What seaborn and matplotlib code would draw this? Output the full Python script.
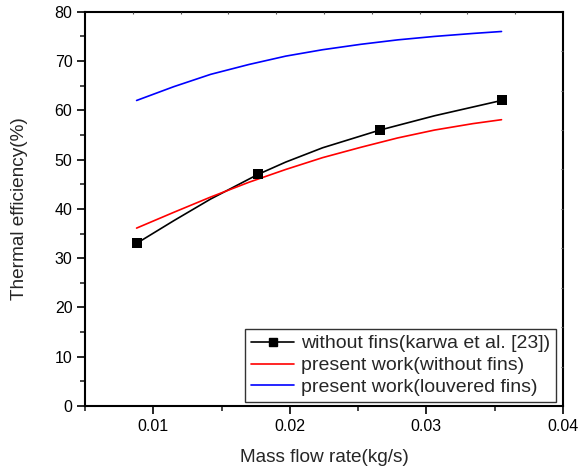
import numpy as np
import pandas as pd
import matplotlib
matplotlib.use("Agg")
import matplotlib.pyplot as plt
import seaborn as sns
from matplotlib.lines import Line2D

# Data
karwa_x = [0.00878, 0.01767, 0.0266, 0.0355]
karwa_y = [33.0, 47.0, 56.0, 62.0]
karwa_curve_x = [0.00878, 0.0115, 0.0142, 0.01767, 0.0197, 0.0224, 0.0266, 0.0306, 0.0355]
karwa_curve_y = [33.0, 37.6, 42.0, 47.0, 49.5, 52.4, 56.0, 58.9, 62.0]
red_x = [0.00878, 0.0115, 0.0142, 0.0170, 0.0197, 0.0224, 0.0252, 0.0279, 0.0306, 0.0334, 0.0355]
red_y = [36.1, 39.3, 42.4, 45.4, 48.0, 50.4, 52.5, 54.4, 56.0, 57.3, 58.1]
blue_x = [0.00878, 0.0115, 0.0142, 0.0170, 0.0197, 0.0224, 0.0252, 0.0279, 0.0306, 0.0334, 0.0355]
blue_y = [62.0, 64.8, 67.3, 69.3, 71.0, 72.3, 73.4, 74.3, 75.0, 75.6, 76.0]
labels = ["without fins(karwa et al. [23])",
          "present work(without fins)",
          "present work(louvered fins)"]
x_ticks = [0.01, 0.02, 0.03, 0.04]
y_ticks = [0, 10, 20, 30, 40, 50, 60, 70, 80]

sns.set_style("ticks")
plt.rcParams["font.family"] = ["Liberation Sans", "DejaVu Sans"]

fig = plt.figure(figsize=(5.78, 4.71), dpi=100)
ax = fig.add_axes([0.147, 0.138, 0.827, 0.837])

sns.lineplot(x=karwa_curve_x, y=karwa_curve_y, ax=ax, color="black", lw=1.2, sort=False)
sns.scatterplot(x=karwa_x, y=karwa_y, ax=ax, color="black", marker="s", s=50,
                edgecolor="black", linewidth=0, zorder=5)
sns.lineplot(x=red_x, y=red_y, ax=ax, color="red", lw=1.2, sort=False)
sns.lineplot(x=blue_x, y=blue_y, ax=ax, color="blue", lw=1.2, sort=False)

ax.set_xlim(0.005, 0.04)
ax.set_ylim(0, 80)
ax.set_xticks(x_ticks)
ax.set_xticklabels([f"{t:g}" for t in x_ticks])
ax.set_xticks(np.arange(0.005, 0.0401, 0.005), minor=True)
ax.set_yticks(y_ticks)
ax.set_yticks(np.arange(0, 81, 5), minor=True)
ax.tick_params(which="major", direction="out", length=6, width=1.2, labelsize=11.5,
               colors="black", pad=3)
ax.tick_params(which="minor", direction="out", length=3.5, width=1.2)
for s in ax.spines.values():
    s.set_linewidth(1.5)
    s.set_color("black")

# faint inner ticks on top/right
axt = ax.twiny()
axt.set_xlim(0, 1)
axt.set_xticks(np.arange(1, 10) / 10)
axt.tick_params(direction="in", length=1.5, width=0.8, labeltop=False, colors="#555555")
axr = ax.twinx()
axr.set_ylim(0, 1)
axr.set_yticks(np.arange(1, 10) / 10)
axr.tick_params(direction="in", length=1.5, width=0.8, labelright=False, colors="#555555")
for a in (axt, axr):
    for s in a.spines.values():
        s.set_visible(False)

ax.set_xlabel("Mass flow rate(kg/s)", fontsize=13.7, labelpad=11)
ax.set_ylabel("Thermal efficiency(%)", fontsize=13.7, labelpad=19)

handles = [
    Line2D([], [], color="black", lw=1.2, marker="s", markersize=6.2),
    Line2D([], [], color="red", lw=1.2),
    Line2D([], [], color="blue", lw=1.2),
]
leg = ax.legend(handles, labels, loc="lower right", bbox_to_anchor=(0.985, 0.01),
                fontsize=14, frameon=True, fancybox=False, edgecolor="black",
                handlelength=2.2, handletextpad=0.35, borderpad=0.3, labelspacing=0.22,
                borderaxespad=0)
leg.get_frame().set_linewidth(1.0)

fig.savefig("out.png", dpi=100)
